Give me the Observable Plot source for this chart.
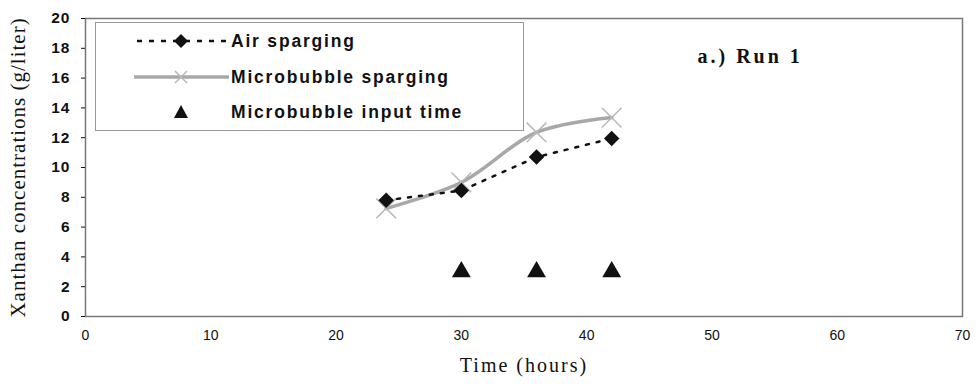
<!DOCTYPE html>
<html><head><meta charset="utf-8">
<script src="https://cdn.jsdelivr.net/npm/d3@7"></script>
<script src="https://cdn.jsdelivr.net/npm/@observablehq/plot@0.6"></script>
<style>
body{margin:0;background:#fff;}
#wrap{position:relative;width:977px;height:388px;}
#legend{position:absolute;left:95px;top:22px;width:427px;height:107px;border:1px solid #999;background:#fff;font-family:"Liberation Sans",Arial,sans-serif;font-weight:bold;font-size:17.5px;letter-spacing:1.8px;color:#111;}
#legend .row{position:absolute;left:38px;height:24px;display:flex;align-items:center;}
#legend svg{display:block;margin-right:2px;}
.runlabel text{letter-spacing:3px;}
.ylab text{letter-spacing:1px;}
.xlab text{letter-spacing:2px;}
.yax text{letter-spacing:1px;}
</style></head>
<body><div id="wrap"><div id="chart"></div>
<div id="legend">
 <div class="row" style="top:6px"><svg width="95" height="20"><line x1="3" y1="10" x2="92" y2="10" stroke="#111" stroke-width="2.5" stroke-dasharray="5,7"/><path d="M47,3 L54,10 L47,17 L40,10Z" fill="#111"/></svg>Air sparging</div>
 <div class="row" style="top:42px"><svg width="95" height="20"><line x1="0" y1="10" x2="95" y2="10" stroke="#a8a8a8" stroke-width="3.5"/><path d="M41,4 L53,16 M53,4 L41,16" stroke="#b8b8b8" stroke-width="1.5"/></svg>Microbubble sparging</div>
 <div class="row" style="top:77px"><svg width="95" height="20"><path d="M47,3 L54,16 L40,16Z" fill="#111"/></svg>Microbubble input time</div>
</div></div>
<script>
const time = [24, 30, 36, 42];
const airSparging = [7.8, 8.45, 10.7, 11.95];
const microbubbleSparging = [7.25, 9.0, 12.35, 13.35];
const inputTime = [30, 36, 42];
const inputLevel = [3, 3, 3];
const xTicks = [0, 10, 20, 30, 40, 50, 60, 70];
const yTicks = [0, 2, 4, 6, 8, 10, 12, 14, 16, 18, 20];

const air = time.map((t, i) => ({t, v: airSparging[i]}));
const micro = time.map((t, i) => ({t, v: microbubbleSparging[i]}));
const inputs = inputTime.map((t, i) => ({t, v: inputLevel[i]}));

const serif = "'Liberation Serif', 'Times New Roman', serif";
const chart = Plot.plot({
  width: 977, height: 388,
  marginLeft: 85, marginRight: 15, marginTop: 18, marginBottom: 72,
  style: {fontFamily: "'Liberation Sans', Arial, sans-serif", background: "#fff", color: "#111"},
  x: {domain: [0, 70], label: null},
  y: {domain: [0, 20], label: null},
  marks: [
    Plot.frame({stroke: "#777", strokeWidth: 1.5}),
    Plot.axisX({ticks: xTicks, tickSize: 0, tickPadding: 14, fontSize: 14, label: null}),
    Plot.axisY({ticks: yTicks, tickSize: 4, tickPadding: 11, fontSize: 15.5, fontWeight: "bold", className: "yax", label: null}),
    Plot.line(micro, {x: "t", y: "v", stroke: "#a8a8a8", strokeWidth: 3.5, curve: "catmull-rom"}),
    Plot.dot(micro, {x: "t", y: "v", symbol: "times", stroke: "#b8b8b8", strokeWidth: 1.5, r: 9}),
    Plot.line(air, {x: "t", y: "v", stroke: "#111", strokeWidth: 2.5, strokeDasharray: "3,8"}),
    Plot.dot(air, {x: "t", y: "v", symbol: "diamond2", fill: "#111", r: 7}),
    Plot.dot(inputs, {x: "t", y: "v", symbol: "triangle2", fill: "#111", r: 9}),
    Plot.text(["a.) Run 1"], {frameAnchor: "top-right", dx: -265, dy: 30, textAnchor: "start", className: "runlabel", fontFamily: serif, fontWeight: "bold", fontSize: 20}),
    Plot.text(["Time (hours)"], {frameAnchor: "bottom", dy: 55, className: "xlab", fontFamily: serif, fontSize: 20}),
    Plot.text(["Xanthan concentrations (g/liter)"], {frameAnchor: "left", dx: -67, textAnchor: "middle", rotate: -90, className: "ylab", fontFamily: serif, fontSize: 21})
  ]
});
document.getElementById("chart").appendChild(chart);
</script></body></html>
